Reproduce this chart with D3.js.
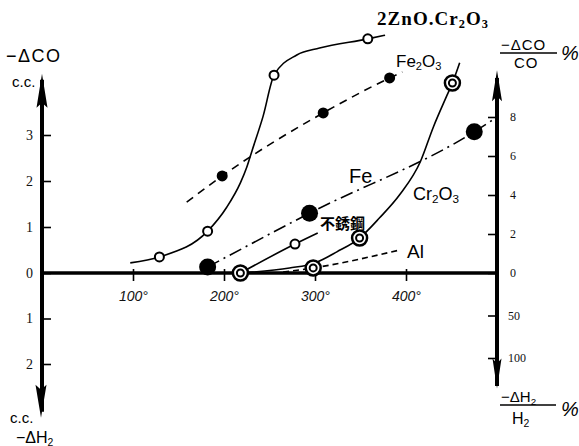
<!DOCTYPE html>
<html>
<head>
<meta charset="utf-8">
<script src="https://cdn.jsdelivr.net/npm/d3@7"></script>
<style>
  body { margin: 0; background: #fff; }
  svg { display: block; }
</style>
</head>
<body>
<div id="chart"></div>
<script>
// values: temperature (deg C) vs -dCO (c.c.)
const tempTicks = [100, 200, 300, 400];
const coTicks = [0, 1, 2, 3];
const h2Ticks = [1, 2];
const coPctTicks = [0, 2, 4, 6, 8];
const h2PctTicks = [50, 100];

// 2ZnO.Cr2O3 (open circles, solid)
const zncrLineT = [97, 129, 182, 203, 218, 225, 231, 243, 255, 280, 305, 358, 377];
const zncrLineV = [0.22, 0.35, 0.91, 1.43, 1.96, 2.30, 2.67, 3.41, 4.30, 4.74, 4.89, 5.09, 5.17];
const zncrPtT = [129, 182, 255, 358];
const zncrPtV = [0.35, 0.91, 4.30, 5.09];

// Fe2O3 (small dots, dashed)
const fe2o3LineT = [159, 198, 309, 382, 396];
const fe2o3LineV = [1.54, 2.11, 3.48, 4.24, 4.37];
const fe2o3PtT = [198, 309, 382];
const fe2o3PtV = [2.11, 3.48, 4.24];

// Fe (big dots, dash-dot)
const feLineT = [182, 294, 475, 500];
const feLineV = [0.13, 1.30, 3.07, 3.39];
const fePtT = [182, 294, 475];
const fePtV = [0.13, 1.30, 3.07];

// 不銹鋼 (open circle, solid)
const susLineT = [218, 278, 303];
const susLineV = [0, 0.63, 0.87];
const susPtT = [278];
const susPtV = [0.63];

// Cr2O3 (double rings, solid)
const crLineT = [218, 272, 300, 324, 349, 371, 393, 416, 430, 445, 451, 459];
const crLineV = [0, 0.11, 0.22, 0.46, 0.76, 1.20, 1.70, 2.43, 3.17, 3.86, 4.13, 4.57];
const crPtT = [218, 349, 451];
const crPtV = [0, 0.76, 4.13];

// Al (double ring, fine dashes)
const alLineT = [265, 298, 393];
const alLineV = [0.02, 0.11, 0.50];
const alPtT = [298];
const alPtV = [0.11];

const zip = (a, b) => a.map((d, i) => [d, b[i]]);

const svg = d3.select('#chart').append('svg')
    .attr('width', 579)
    .attr('height', 446);

const x = d3.scaleLinear().domain([0, 500]).range([42, 497]);
const y = d3.scaleLinear().domain([0, 3]).range([273, 135]);
const yH = d3.scaleLinear().domain([0, 2]).range([273, 364]);
const yPct = d3.scaleLinear().domain([0, 8]).range([273, 117]);
const yHPct = d3.scaleLinear().domain([0, 100]).range([273, 358]);

const serif = '"Liberation Serif", "DejaVu Serif", serif';
const sans = '"Liberation Sans", Arial, sans-serif';

function styleAxis(g, size, font) {
    g.select('.domain').remove();
    g.selectAll('.tick line').attr('stroke', '#000').attr('stroke-width', 1.6);
    g.selectAll('.tick text').attr('fill', '#111').style('font-size', size + 'px').style('font-family', font);
}

// left axis ticks (up: -dCO, down: -dH2)
svg.append('g')
    .attr('transform', `translate(${x(0)},0)`)
    .call(d3.axisLeft(y).tickValues(coTicks).tickSize(-9).tickPadding(9).tickFormat(d3.format('d')))
    .call(g => styleAxis(g, 14, serif));

svg.append('g')
    .attr('transform', `translate(${x(0)},0)`)
    .call(d3.axisLeft(yH).tickValues(h2Ticks).tickSize(-9).tickPadding(9).tickFormat(d3.format('d')))
    .call(g => styleAxis(g, 14, serif));

// right axis ticks (percent)
svg.append('g')
    .attr('transform', `translate(${x(500)},0)`)
    .call(d3.axisRight(yPct).tickValues(coPctTicks).tickSize(-9).tickPadding(13).tickFormat(d3.format('d')))
    .call(g => styleAxis(g, 12, serif));

svg.append('g')
    .attr('transform', `translate(${x(500)},0)`)
    .call(d3.axisRight(yHPct).tickValues(h2PctTicks).tickSize(-9).tickPadding(11).tickFormat(d3.format('d')))
    .call(g => styleAxis(g, 12, serif));

svg.append('g')
    .attr('transform', `translate(0,${y(0)})`)
    .call(d3.axisBottom(x).tickValues(tempTicks).tickSize(8).tickPadding(10).tickFormat(d => d + '°'))
    .call(g => {
        styleAxis(g, 14, sans);
        g.selectAll('.tick line').attr('y1', -4);
        g.selectAll('.tick text').style('font-style', 'italic');
    });

// thick axis lines with arrows
const axisLines = svg.append('g').attr('stroke', '#000').attr('stroke-linecap', 'butt');
axisLines.append('line')
    .attr('x1', x(0)).attr('x2', x(0))
    .attr('y1', y(4.2)).attr('y2', yH(3.05))
    .attr('stroke-width', 4);
axisLines.append('line')
    .attr('x1', x(500)).attr('x2', x(500))
    .attr('y1', yPct(10.0)).attr('y2', yHPct(133))
    .attr('stroke-width', 4);
axisLines.append('line')
    .attr('x1', x(-2)).attr('x2', x(500))
    .attr('y1', y(0)).attr('y2', y(0))
    .attr('stroke-width', 3.5);

function arrow(cx, tip, dir, len, hw) {
    svg.append('path')
        .attr('d', `M${cx},${tip} L${cx + hw},${tip + dir * len} L${cx},${tip + dir * (len - 5)} L${cx - hw},${tip + dir * len} Z`)
        .attr('fill', '#000');
}
arrow(x(0), y(4.33), 1, 34, 5.5);
arrow(x(0) - 1, yH(3.18), -1, 33, 5.5);
arrow(x(500), yPct(10.4), 1, 31, 5);
arrow(x(500), yHPct(136), -1, 30, 4.5);

// series lines
const line = d3.line()
    .x(d => x(d[0]))
    .y(d => y(d[1]))
    .curve(d3.curveMonotoneX);

const series = [
    { t: zncrLineT, v: zncrLineV, dash: null },
    { t: fe2o3LineT, v: fe2o3LineV, dash: '8,6' },
    { t: feLineT, v: feLineV, dash: '13,5,2,5' },
    { t: susLineT, v: susLineV, dash: null },
    { t: crLineT, v: crLineV, dash: null },
    { t: alLineT, v: alLineV, dash: '6,4' }
];

svg.append('g')
    .selectAll('path')
    .data(series)
    .enter().append('path')
    .attr('d', d => line(zip(d.t, d.v)))
    .attr('fill', 'none')
    .attr('stroke', '#000')
    .attr('stroke-width', 1.6)
    .attr('stroke-dasharray', d => d.dash);

// markers
const marks = svg.append('g');
marks.selectAll('.open')
    .data(zip(zncrPtT, zncrPtV).concat(zip(susPtT, susPtV)))
    .enter().append('circle')
    .attr('cx', d => x(d[0])).attr('cy', d => y(d[1]))
    .attr('r', 4.5)
    .attr('fill', '#fff').attr('stroke', '#000').attr('stroke-width', 2);

marks.selectAll('.dot')
    .data(zip(fe2o3PtT, fe2o3PtV))
    .enter().append('circle')
    .attr('cx', d => x(d[0])).attr('cy', d => y(d[1]))
    .attr('r', 5.5)
    .attr('fill', '#000');

marks.selectAll('.big')
    .data(zip(fePtT, fePtV))
    .enter().append('circle')
    .attr('cx', d => x(d[0])).attr('cy', d => y(d[1]))
    .attr('r', 8.5)
    .attr('fill', '#000');

const rings = zip(crPtT, crPtV).concat(zip(alPtT, alPtV));
marks.selectAll('.ringOut')
    .data(rings)
    .enter().append('circle')
    .attr('cx', d => x(d[0])).attr('cy', d => y(d[1]))
    .attr('r', 7.5)
    .attr('fill', '#fff').attr('stroke', '#000').attr('stroke-width', 2.5);
marks.selectAll('.ringIn')
    .data(rings)
    .enter().append('circle')
    .attr('cx', d => x(d[0])).attr('cy', d => y(d[1]))
    .attr('r', 3.5)
    .attr('fill', '#fff').attr('stroke', '#000').attr('stroke-width', 2);

// labels
function label(px, py, parts, size, font, extra) {
    const t = svg.append('text')
        .attr('x', px).attr('y', py)
        .style('font-size', size + 'px')
        .style('font-family', font)
        .attr('fill', '#000');
    if (extra) extra(t);
    parts.forEach(p => {
        const s = t.append('tspan').text(p[0]);
        if (p[1] === 'sub') s.attr('baseline-shift', '-25%').style('font-size', (size * 0.65) + 'px');
    });
    return t;
}

label(6, 62, [['−ΔCO']], 18, sans, t => t.attr('letter-spacing', 1.5));
label(12, 87, [['c.c.']], 15, sans);
label(10, 423, [['c.c.']], 15, sans);
label(16, 443, [['−ΔH'], ['2', 'sub']], 16, sans);

label(377, 25, [['2ZnO.Cr'], ['2', 'sub'], ['O'], ['3', 'sub']], 19, serif,
    t => t.style('font-weight', 'bold').attr('textLength', 111));
label(396, 67, [['Fe'], ['2', 'sub'], ['O'], ['3', 'sub']], 17, sans);
label(349, 183, [['Fe']], 20, sans);
label(413, 200, [['Cr'], ['2', 'sub'], ['O'], ['3', 'sub']], 18, sans);
label(320, 229, [['不銹鋼']], 15, '"Noto Sans CJK JP", sans-serif', t => t.style('font-weight', 'bold'));
label(407, 258, [['Al']], 19, sans);

// right-hand fraction titles
label(501, 50, [['−ΔCO']], 15, sans, t => t.attr('letter-spacing', 1));
svg.append('line').attr('x1', 500).attr('x2', 557).attr('y1', 53).attr('y2', 53)
    .attr('stroke', '#000').attr('stroke-width', 1.4);
label(514, 68, [['CO']], 15, sans, t => t.attr('letter-spacing', 1));
label(561, 60, [['%']], 20, sans, t => t.style('font-style', 'italic'));

label(501, 402, [['−ΔH'], ['2', 'sub']], 15, sans);
svg.append('line').attr('x1', 500).attr('x2', 556).attr('y1', 405).attr('y2', 405)
    .attr('stroke', '#000').attr('stroke-width', 1.4);
label(512, 424, [['H'], ['2', 'sub']], 16, sans);
label(561, 416, [['%']], 20, sans, t => t.style('font-style', 'italic'));
</script>
</body>
</html>
